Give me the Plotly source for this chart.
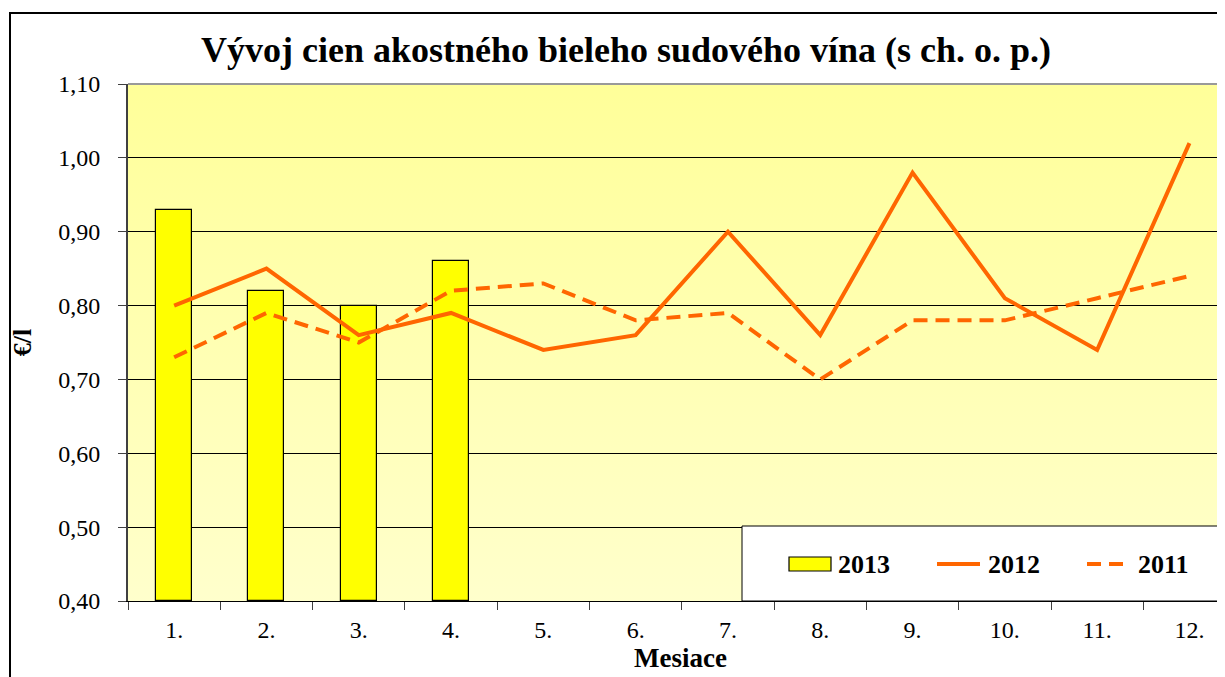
import base64
import plotly.graph_objects as go

months = ["1.", "2.", "3.", "4.", "5.", "6.", "7.", "8.", "9.", "10.", "11.", "12."]
series_names = ["2013", "2012", "2011"]
vals_2013 = [0.93, 0.82, 0.80, 0.86]
vals_2012 = [0.80, 0.85, 0.76, 0.79, 0.74, 0.76, 0.90, 0.76, 0.98, 0.81, 0.74, 1.02]
vals_2011 = [0.73, 0.79, 0.75, 0.82, 0.83, 0.78, 0.79, 0.70, 0.78, 0.78, 0.81, 0.84]
y_ticks = [0.4, 0.5, 0.6, 0.7, 0.8, 0.9, 1.0, 1.1]

x_pos = list(range(1, len(months) + 1))

# page is offset by the default 8px body margin
OFF = 8
W, H = 1225, 677
ML, MR, MT, MB = 128 - OFF, 0, 84 - OFF, H - (601 - OFF)
PW, PH = W - ML - MR, H - MT - MB
CAT_PX = 92.3


def px_x(px):  # page px -> paper
    return (px - OFF - ML) / PW


def px_y(py):  # page px -> paper
    return (H - MB - (py - OFF)) / PH


FONT = "Liberation Serif, Times New Roman, serif"
ORANGE = "#FF6600"
DASH = "14px,8px"

svg = ('<svg xmlns="http://www.w3.org/2000/svg" width="100" height="100" preserveAspectRatio="none">'
       '<defs><linearGradient id="g" x1="0" y1="0" x2="0" y2="1">'
       '<stop offset="0" stop-color="#FFFF99"/><stop offset="1" stop-color="#FFFFCC"/>'
       '</linearGradient></defs><rect width="100" height="100" fill="url(#g)"/></svg>')
svg_uri = "data:image/svg+xml;base64," + base64.b64encode(svg.encode()).decode()

fig = go.Figure()
fig.add_trace(go.Bar(
    x=x_pos[:len(vals_2013)], y=[v - y_ticks[0] for v in vals_2013], base=y_ticks[0],
    name=series_names[0], width=0.39,
    marker=dict(color="#FFFF00", line=dict(color="#000000", width=1.2)),
))
fig.add_trace(go.Scatter(
    x=x_pos, y=vals_2012, name=series_names[1], mode="lines",
    line=dict(color=ORANGE, width=4),
))
fig.add_trace(go.Scatter(
    x=x_pos, y=vals_2011, name=series_names[2], mode="lines",
    line=dict(color=ORANGE, width=4, dash=DASH),
))

fig.update_layout(
    width=W, height=H,
    margin=dict(l=ML, r=MR, t=MT, b=MB, autoexpand=False),
    paper_bgcolor="white",
    plot_bgcolor="rgba(0,0,0,0)",
    separators=", ",
    font=dict(family=FONT, color="black", size=24),
    title=dict(
        text="Vývoj cien akostného bieleho sudového vína (s ch. o. p.)",
        font=dict(family=FONT, size=36, weight="bold", color="black"),
        x=(626 - OFF) / W, xanchor="center", y=1 - (49 - OFF) / H, yanchor="middle",
    ),
    images=[dict(source=svg_uri, xref="paper", yref="paper", x=0, y=1,
                 sizex=1, sizey=1, sizing="stretch", layer="below",
                 xanchor="left", yanchor="top")],
    showlegend=False,
    bargap=0,
)

fig.update_xaxes(
    range=[0.5, 0.5 + PW / CAT_PX],
    tickvals=x_pos, ticktext=months, ticks="",
    minor=dict(ticks="outside", tick0=0.5, dtick=1, ticklen=8, tickcolor="#404040", tickwidth=1, showgrid=False),
    showline=True, linecolor="#000000", linewidth=1,
    showgrid=False, zeroline=False, automargin=False,
    tickfont=dict(family=FONT, size=24, color="black"),
    ticklabelstandoff=7,
    title=dict(text="Mesiace", font=dict(family=FONT, size=27, weight="bold", color="black"), standoff=0),
)
fig.update_yaxes(
    range=[y_ticks[0], y_ticks[-1]],
    tickvals=y_ticks, tickformat=".2f",
    ticks="outside", ticklen=8, tickcolor="#404040", tickwidth=1,
    showline=True, linecolor="#404040", linewidth=2,
    showgrid=True, gridcolor="#000000", gridwidth=1,
    zeroline=False, automargin=False,
    tickfont=dict(family=FONT, size=24, color="black"),
    ticklabelstandoff=13,
    title=dict(text="€/l", font=dict(family=FONT, size=26, weight="bold", color="black"), standoff=22),
)

# top plot border
fig.add_shape(type="line", xref="paper", yref="paper", x0=0, x1=1.02, y0=1, y1=1,
              line=dict(color="#999999", width=2), layer="above")
# legend box
fig.add_shape(type="rect", xref="paper", yref="paper",
              x0=px_x(742), x1=1.02, y0=0, y1=px_y(526),
              fillcolor="white", line=dict(color="#000000", width=1), layer="above")
# outer chart frame
fig.add_shape(type="rect", xref="paper", yref="paper",
              x0=px_x(10), x1=1.02, y0=px_y(700), y1=px_y(13),
              fillcolor="rgba(0,0,0,0)", line=dict(color="#000000", width=2), layer="above")

# legend keys and labels
LEG_Y = px_y(564)
fig.add_shape(type="rect", xref="paper", yref="paper",
              x0=px_x(789), x1=px_x(831), y0=px_y(571), y1=px_y(557),
              fillcolor="#FFFF00", line=dict(color="#000000", width=1.2), layer="above")
fig.add_shape(type="line", xref="paper", yref="paper",
              x0=px_x(937), x1=px_x(980), y0=LEG_Y, y1=LEG_Y,
              line=dict(color=ORANGE, width=4), layer="above")
fig.add_shape(type="line", xref="paper", yref="paper",
              x0=px_x(1087), x1=px_x(1131), y0=LEG_Y, y1=LEG_Y,
              line=dict(color=ORANGE, width=4, dash=DASH), layer="above")
for name, lx in zip(series_names, [836, 986, 1136]):
    fig.add_annotation(text=name, xref="paper", yref="paper", x=px_x(lx), y=LEG_Y,
                       xanchor="left", yanchor="middle", showarrow=False,
                       font=dict(family=FONT, size=26, weight="bold", color="black"))

fig.write_html("out.html")
